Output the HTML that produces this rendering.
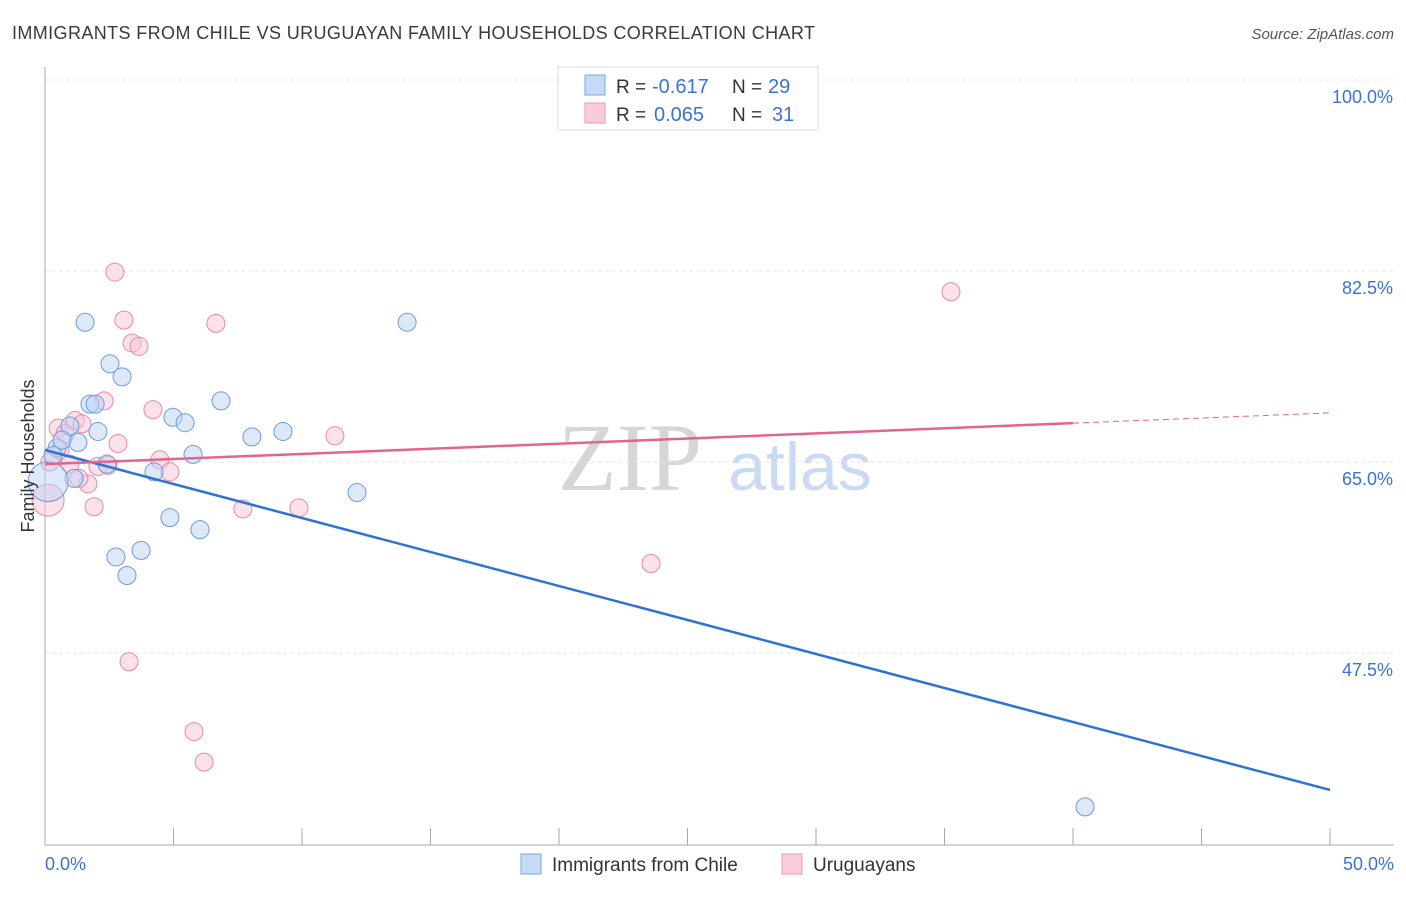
<!DOCTYPE html>
<html><head><meta charset="utf-8"><style>
body{margin:0;background:#fff;font-family:"Liberation Sans",sans-serif}
</style></head><body>
<svg id="chart" width="1406" height="892" xmlns="http://www.w3.org/2000/svg" font-family="Liberation Sans, sans-serif">
<text x="12" y="39" font-size="18" fill="#3a3a3a" textLength="803">IMMIGRANTS FROM CHILE VS URUGUAYAN FAMILY HOUSEHOLDS CORRELATION CHART</text>
<text x="1394" y="39" font-size="15" fill="#555" text-anchor="end" font-style="italic">Source: ZipAtlas.com</text>
<text x="630" y="490" font-size="96" fill="#d6d6d6" font-family="Liberation Serif, serif" text-anchor="middle">ZIP</text>
<text x="800" y="490" font-size="68" fill="#c9dbf2" text-anchor="middle">atlas</text>
<g id="grid"></g>
<g id="axes"></g>
<g id="pts"></g>
<g id="trends"></g>
<text transform="translate(34,456) rotate(-90)" font-size="18" fill="#333" text-anchor="middle">Family Households</text>
<g>
<rect x="558" y="67" width="260" height="63" fill="#fff" stroke="#ddd"/>
<rect x="585" y="75" width="20" height="20" fill="#c5daf6" stroke="#7aa6e0"/>
<rect x="585" y="103" width="20" height="20" fill="#f9ccd9" stroke="#eb9ab4"/>
<text x="616" y="93" font-size="19" fill="#333">R =</text>
<text x="652" y="93" font-size="20" fill="#3b72d6">-0.617</text>
<text x="732" y="93" font-size="19" fill="#333">N =</text>
<text x="768" y="93" font-size="20" fill="#3b72d6">29</text>
<text x="616" y="121" font-size="19" fill="#333">R =</text>
<text x="654" y="121" font-size="20" fill="#3b72d6">0.065</text>
<text x="732" y="121" font-size="19" fill="#333">N =</text>
<text x="772" y="121" font-size="20" fill="#3b72d6">31</text>
</g>
<g>
<rect x="521" y="854" width="20" height="20" fill="#c5daf6" stroke="#7aa6e0"/>
<text x="552" y="871" font-size="19" fill="#333">Immigrants from Chile</text>
<rect x="782" y="854" width="20" height="20" fill="#f9ccd9" stroke="#eb9ab4"/>
<text x="813" y="871" font-size="19" fill="#333">Uruguayans</text>
</g>
</svg>
<script>
const yTicks=[100,82.5,65,47.5];
const xTickLabels=["0.0%","50.0%"];
const blueX=[1.56,2.53,3.0,14.09,1.75,1.95,6.85,4.98,5.45,2.06,8.05,9.26,0.97,0.47,1.28,5.76,4.24,1.13,2.41,12.14,4.86,6.03,2.76,3.74,3.19,40.47,0.12,0.66,0.31];
const blueY=[77.8,74.0,72.8,77.8,70.3,70.3,70.6,69.1,68.6,67.8,67.3,67.8,68.3,66.3,66.8,65.7,64.1,63.5,64.8,62.2,59.9,58.8,56.3,56.9,54.6,33.4,63.2,67.0,65.6];
const blueSize=[9,9,9,9,9,9,9,9,9,9,9,9,9,9,9,9,9,9,9,9,9,9,9,9,9,9,20,9,9];
const pinkX=[2.72,3.07,6.65,3.39,3.66,35.25,2.30,4.20,1.17,0.51,1.44,0.78,2.84,11.28,0.58,0.97,2.06,2.45,4.47,4.86,1.67,1.32,1.91,7.70,9.88,23.58,3.27,5.80,6.19,0.12,0.19];
const pinkY=[82.4,78.0,77.7,75.9,75.6,80.6,70.6,69.8,68.8,68.1,68.5,67.6,66.7,67.4,66.1,64.8,64.6,64.7,65.2,64.1,63.0,63.5,60.9,60.7,60.8,55.7,46.7,40.3,37.5,61.5,65.0];
const pinkSize=[9,9,9,9,9,9,9,9,9,9,9,9,9,9,9,9,9,9,9,9,9,9,9,9,9,9,9,9,9,16,9];
const blueTrend=[66.1,34.95];
const pinkTrend=[64.8,69.5];
const NS="http://www.w3.org/2000/svg";
const X=v=>45+v/50*1285, Y=v=>462-(v-65)/17.5*191;
function mk(t,a,p){const e=document.createElementNS(NS,t);for(const k in a)e.setAttribute(k,a[k]);p.appendChild(e);return e;}
const g=document.getElementById('grid'),ax=document.getElementById('axes'),pts=document.getElementById('pts'),tr=document.getElementById('trends');
yTicks.forEach(v=>{
 const l=mk('line',{x1:45,x2:1394,y1:Y(v),y2:Y(v),stroke:'#e4e4e4','stroke-dasharray':'4,3'},g);
 
 
 const t=mk('text',{x:1393,y:Y(v)+23,'font-size':18,fill:'#3b72d6','text-anchor':'end'},g);
 t.textContent=v.toFixed(1)+'%';
 
 
});
const a1=mk('line',{x1:45,x2:45,y1:67,y2:845,stroke:'#aaa'},ax);


const a2=mk('line',{x1:45,x2:1394,y1:845,y2:845,stroke:'#aaa'},ax);


for(let i=0;i<=10;i++){const t=mk('line',{x1:X(i*5),x2:X(i*5),y1:828,y2:845,stroke:'#aaa'},ax);
 
 }
[[0,'start',45],[1,'end',1394]].forEach(([i,anc,x])=>{const t=mk('text',{x:x,y:870,'font-size':18,fill:'#3b72d6','text-anchor':anc},ax);t.textContent=xTickLabels[i];
 
 });
function drawPts(xs,ys,ss,fill,stroke,name){xs.forEach((v,i)=>{const c=mk('circle',{cx:X(v),cy:Y(ys[i]),r:ss[i],fill:fill,'fill-opacity':0.5,stroke:stroke,'stroke-width':1},pts);
 
 });}
drawPts(pinkX,pinkY,pinkSize,'#f7c3d3','#e88aa8','uruguayans-point');
drawPts(blueX,blueY,blueSize,'#bcd4f3','#6c9be0','chile-point');
const bl=mk('line',{x1:X(0),y1:Y(blueTrend[0]),x2:X(50),y2:Y(blueTrend[1]),stroke:'#2f72d6','stroke-width':2.5},tr);


const pAt=v=>pinkTrend[0]+(pinkTrend[1]-pinkTrend[0])*v/50;
const pl=mk('line',{x1:X(0),y1:Y(pAt(0)),x2:X(40),y2:Y(pAt(40)),stroke:'#e4648e','stroke-width':2.5},tr);


const pd=mk('line',{x1:X(40),y1:Y(pAt(40)),x2:X(50),y2:Y(pAt(50)),stroke:'#e4648e','stroke-width':1,'stroke-dasharray':'6,4'},tr);


</script>
</body></html>
